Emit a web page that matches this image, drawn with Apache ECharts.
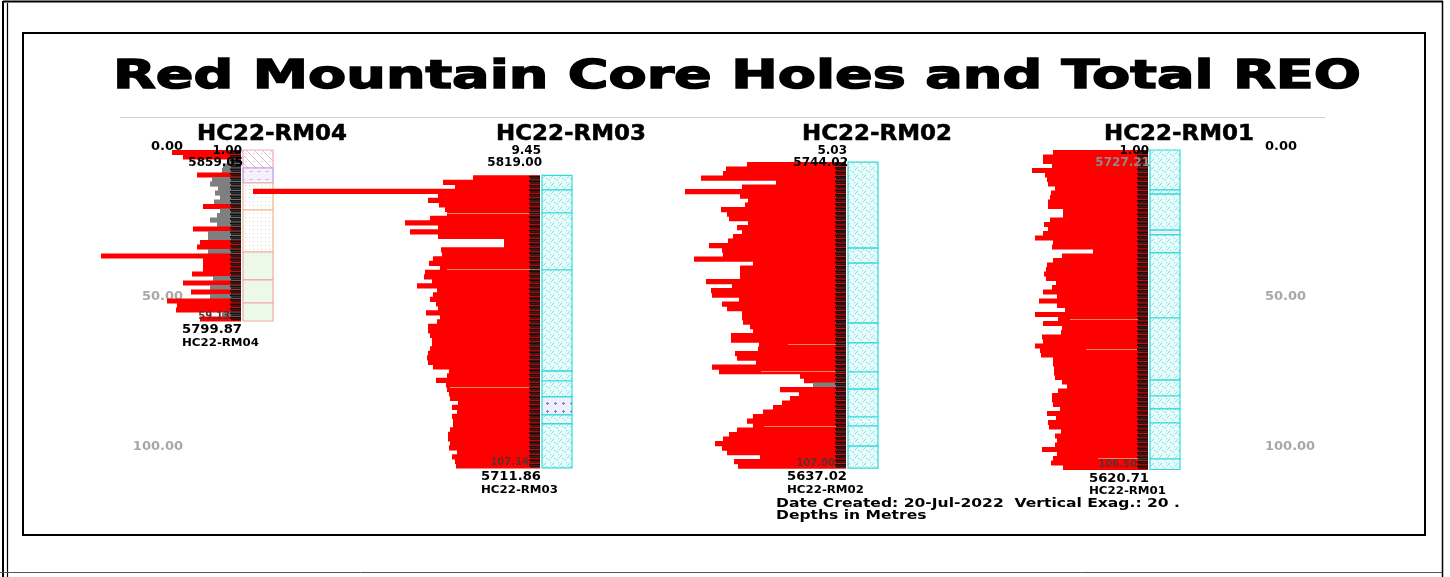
<!DOCTYPE html>
<html><head><meta charset="utf-8">
<script src="https://cdn.jsdelivr.net/npm/echarts@6/dist/echarts.min.js"></script>
<style>html,body{margin:0;padding:0;background:#fff}#c{width:1450px;height:577px}</style>
</head><body><div id="c"></div>
<script>
// ---------------- DATA ----------------
const depthTicks = [0, 50, 100];
const holeNames = ['HC22-RM04', 'HC22-RM03', 'HC22-RM02', 'HC22-RM01'];
const collarDepths = [1.00, 9.45, 5.03, 1.00];
const collarLabels = ['1.00', '9.45', '5.03', '1.00'];
const sampleInterval = 1.5;
const topElevations = ['5859.05', '5819.00', '5744.02', '5727.21'];
const bottomElevations = ['5799.87', '5711.86', '5637.02', '5620.71'];
const endDepthLabels = ['59.13', '107.14', '107.00', '106.50'];
const lowGradeCutoff = 700; // Total REO (ppm) below which the interval is grey

const rm04REO = [1380,1160,280,360,380,880,580,620,460,520,
  420,540,760,420,480,620,480,960,660,660,
  820,880,660,2800,760,760,760,980,560,1160,
  620,1000,620,1480,1280,1300,380,820];
const rm03REO = [1340,1940,1700,5740,2040,2240,2020,1900,1860,2200,
  2700,2040,2600,2040,720,720,1980,1960,2140,2220,
  2000,2300,2320,2160,2460,2060,2140,2200,2080,2040,
  2280,2000,2060,2240,2240,2200,2160,2160,2200,2240,
  2260,2240,2140,1820,1860,2080,1880,1860,1820,1800,
  1640,1760,1660,1760,1740,1740,1800,1840,1840,1800,
  1820,1660,1760,1700,1680];
const rm02REO = [1980,2400,2460,2900,1400,2080,3220,2120,1960,2020,
  2500,2380,2340,1960,2180,2080,2260,2360,2740,2480,
  2460,3040,1860,2120,2120,2120,2800,2280,2700,2680,
  2140,2480,2380,2080,2080,2060,1920,1860,2300,2300,
  1740,1760,2220,2180,1800,2680,2540,920,840,660,
  1320,940,1120,1280,1460,1660,1860,1980,1860,2180,
  2340,2460,2620,2480,2380,1720,2240,2160];
const rm01REO = [1900,2100,2100,1920,2320,2060,2020,2000,1860,1940,
  1960,2000,2000,1700,1700,1960,2080,2000,2100,2260,
  1900,1920,1100,1720,1900,2020,2040,2080,2040,1840,
  1920,2100,1820,2180,1820,1660,2260,1800,2100,1720,
  1740,2120,2100,2260,2160,2140,1900,1900,1880,1880,
  1860,1720,1620,1800,1920,1920,1900,1760,2020,1840,
  2000,1980,1740,1860,1820,1860,2120,1820,1900,1940,
  1700];

// lithology units: [from depth, to depth, unit type]
const rm04Litho = [[1,7,'pink'],[7,12,'lilac'],[12,21,'dots'],[21,35,'dots'],[35,44.3,'green'],[44.3,52,'green'],[52,58,'green']];
const rm03Litho = [[9.45,14.3,'cyan'],[14.3,22,'cyan'],[22,41,'cyan'],[41,74.7,'cyan'],[74.7,78,'cyan'],[78,83.3,'cyan'],[83.3,89.3,'purple'],[89.3,92.3,'cyan'],[92.3,106.95,'cyan']];
const rm02Litho = [[5.03,33.7,'cyan'],[33.7,38.7,'cyan'],[38.7,58.7,'cyan'],[58.7,65.3,'cyan'],[65.3,75,'cyan'],[75,80.7,'cyan'],[80.7,90,'cyan'],[90,93,'cyan'],[93,99.7,'cyan'],[99.7,107.03,'cyan']];
const rm01Litho = [[1,14.3,'cyan'],[14.3,15.7,'cyan'],[15.7,27.7,'cyan'],[27.7,29.3,'purple'],[29.3,35.3,'cyan'],[35.3,57,'cyan'],[57,77.7,'cyan'],[77.7,83,'cyan'],[83,87.3,'cyan'],[87.3,92,'cyan'],[92,104,'cyan'],[104,107.5,'cyan']];

// contact traces drawn across the REO log: [depth, REO extent (ppm)]
const rm04Contacts = [];
const rm03Contacts = [[22, 1860], [40.7, 1860], [80, 1800]];
const rm02Contacts = [[65.7, 1160], [74.7, 1700], [93, 1640]];
const rm01Contacts = [[57.3, 1560], [67.3, 1240], [103.7, 1000]];

// ---------------- LAYOUT ----------------
const holeX = [241, 540, 846, 1148];
const barSpan = [230, 300, 300, 300];
const ppmPerPx = 20;
const DEPTH_TOP = 147, DEPTH_H = 330, DEPTH_MAX = 110;
const FONT = '"DejaVu Sans", "Liberation Sans", Arial, sans-serif';

function makePattern(kind) {
  const c = document.createElement('canvas');
  c.width = 8; c.height = 8;
  const g = c.getContext('2d');
  g.fillStyle = '#ffffff'; g.fillRect(0, 0, 8, 8);
  if (kind === 'cyan') {
    g.fillStyle = '#e4fafa'; g.fillRect(0, 0, 8, 8);
    g.fillStyle = '#7fe4e4';
    for (let k = 0; k < 8; k += 2) { g.fillRect(k, k, 1, 1); g.fillRect(k + 1, 7 - k, 1, 1); }
    g.fillStyle = '#ffffff';
    g.fillRect(3, 0, 2, 1); g.fillRect(0, 4, 1, 1); g.fillRect(7, 4, 1, 1); g.fillRect(3, 5, 2, 1);
  } else if (kind === 'purple') {
    g.fillStyle = '#eef0fb'; g.fillRect(0, 0, 8, 8);
    g.fillStyle = '#7a74d8';
    g.fillRect(3, 2, 1, 3); g.fillRect(2, 3, 3, 1);
  } else if (kind === 'pink') {
    g.fillStyle = '#f6b4cf';
    for (let k = 0; k < 8; k++) g.fillRect(k, k, 1, 1);
    g.fillStyle = '#a9ecec'; g.fillRect(5, 1, 2, 1);
  } else if (kind === 'lilac') {
    g.fillStyle = '#f6f0fb'; g.fillRect(0, 0, 8, 8);
    g.fillStyle = '#d4b8f0'; g.fillRect(1, 3, 4, 1);
  } else if (kind === 'dots') {
    g.fillStyle = '#bfe9b8'; g.fillRect(1, 1, 1, 1); g.fillRect(5, 5, 1, 1);
    g.fillStyle = '#f6c4c4'; g.fillRect(5, 1, 1, 1); g.fillRect(1, 5, 1, 1);
  } else if (kind === 'green') {
    g.fillStyle = '#ecf8e8'; g.fillRect(0, 0, 8, 8);
  }
  return { image: c, repeat: 'repeat' };
}
const lithoStyle = {
  cyan:   { fill: makePattern('cyan'),   stroke: '#33d9d9' },
  purple: { fill: makePattern('purple'), stroke: '#33d9d9' },
  pink:   { fill: makePattern('pink'),   stroke: '#f3a6c8' },
  lilac:  { fill: makePattern('lilac'),  stroke: '#b898e6' },
  dots:   { fill: makePattern('dots'),   stroke: '#f2b48c' },
  green:  { fill: makePattern('green'),  stroke: '#f2a8a8' }
};

const chart = echarts.init(document.getElementById('c'), null, { renderer: 'canvas' });

function barItem(params, api) {
  const from = api.value(0), to = api.value(1), v = api.value(2);
  const p0 = api.coord([v, from]);
  const p1 = api.coord([0, to]);
  return {
    type: 'rect',
    shape: { x: p0[0], y: p0[1], width: p1[0] - p0[0], height: p1[1] - p0[1] + 0.6 },
    style: { fill: v < lowGradeCutoff ? '#7f7f7f' : '#ff0000' }
  };
}
function tickItem(params, api) {
  const p0 = api.coord([0, api.value(0)]);
  const p1 = api.coord([0, api.value(1)]);
  const h = p1[1] - p0[1];
  return {
    type: 'group',
    children: [
      { type: 'rect', shape: { x: p0[0] - 11, y: p0[1] + 0.4, width: 11, height: h * 0.4 }, style: { fill: '#111' } },
      { type: 'rect', shape: { x: p0[0] - 10, y: p0[1] + h * 0.52, width: 10, height: h * 0.36 }, style: { fill: '#1a1a1a' } }
    ]
  };
}
function contactItem(params, api) {
  const a = api.coord([api.value(1), api.value(0)]);
  const b = api.coord([0, api.value(0)]);
  return { type: 'line', shape: { x1: a[0], y1: Math.round(a[1]) + 0.5, x2: b[0], y2: Math.round(b[1]) + 0.5 },
    style: { stroke: '#f0a070', lineWidth: 1, opacity: 0.85 } };
}
function lithoRenderer(units) {
  return function (params, api) {
    const u = units[params.dataIndex];
    const p0 = api.coord([0, u[0]]);
    const p1 = api.coord([0, u[1]]);
    const st = lithoStyle[u[2]];
    return {
      type: 'rect',
      shape: { x: p0[0] + 2, y: p0[1], width: 30, height: p1[1] - p0[1] },
      style: { fill: st.fill, stroke: st.stroke, lineWidth: 1.2 }
    };
  };
}

const holes = [rm04REO, rm03REO, rm02REO, rm01REO];
const lithos = [rm04Litho, rm03Litho, rm02Litho, rm01Litho];
const contacts = [rm04Contacts, rm03Contacts, rm02Contacts, rm01Contacts];
const grids = [], xAxes = [], yAxes = [], series = [];
holes.forEach((vals, i) => {
  grids.push({ left: holeX[i] - barSpan[i], width: barSpan[i], top: DEPTH_TOP, height: DEPTH_H });
  xAxes.push({ type: 'value', gridIndex: i, inverse: true, min: 0, max: barSpan[i] * ppmPerPx, show: false });
  yAxes.push({ type: 'value', gridIndex: i, inverse: true, min: 0, max: DEPTH_MAX, show: false });
  const rows = vals.map((v, k) => [collarDepths[i] + k * sampleInterval, collarDepths[i] + (k + 1) * sampleInterval, v]);
  series.push({ type: 'custom', name: holeNames[i] + ' litho', xAxisIndex: i, yAxisIndex: i, z: 2, silent: true,
    data: lithos[i].map(u => [u[0], u[1], 0]), renderItem: lithoRenderer(lithos[i]) });
  series.push({ type: 'custom', name: holeNames[i] + ' REO', xAxisIndex: i, yAxisIndex: i, z: 3, silent: true,
    data: rows, renderItem: barItem });
  series.push({ type: 'custom', name: holeNames[i] + ' contacts', xAxisIndex: i, yAxisIndex: i, z: 3.5, silent: true,
    data: contacts[i], renderItem: contactItem });
  series.push({ type: 'custom', name: holeNames[i] + ' samples', xAxisIndex: i, yAxisIndex: i, z: 4, silent: true,
    data: rows, renderItem: tickItem });
});
// depth scale grid (left & right labels)
grids.push({ left: 190, right: 1450 - 1258, top: DEPTH_TOP, height: DEPTH_H });
xAxes.push({ type: 'value', gridIndex: 4, show: false });
const depthLabel = {
  margin: 7, fontFamily: FONT, fontWeight: 'bold', fontSize: 13,
  formatter: v => depthTicks.indexOf(+v) >= 0 ? (+v).toFixed(2) : '',
  color: (v, idx) => (+v === 0 || idx === 0 ? '#000000' : '#a8a8a8'),
  showMaxLabel: false
};
['left', 'right'].forEach(pos => {
  yAxes.push({ type: 'value', gridIndex: 4, position: pos, inverse: true, min: 0, max: DEPTH_MAX, interval: 50,
    axisLine: { show: false }, axisTick: { show: false }, splitLine: { show: false }, axisLabel: depthLabel });
});

chart.setOption({
  animation: false,
  backgroundColor: '#ffffff',
  grid: grids, xAxis: xAxes, yAxis: yAxes, series: series
});

// ---------------- TEXT & FRAME ----------------
const mctx = document.createElement('canvas').getContext('2d');
function fitScale(text, size, target) {
  mctx.font = 'bold ' + size + 'px ' + FONT;
  return target / mctx.measureText(text).width;
}
function txt(text, x, y, size, opts) {
  opts = opts || {};
  const style = { text: text, fill: opts.color || '#000', fontFamily: FONT, fontWeight: 'bold', fontSize: size,
    textAlign: opts.align || 'left', textVerticalAlign: 'middle' };
  if (opts.heavy) { style.stroke = opts.color || '#000'; style.lineWidth = opts.heavy; }
  return { type: 'text', x: x, y: y, z: 100, scaleX: opts.scaleX || 1, silent: true, style: style };
}
const gfx = [];
// frames
gfx.push({ type: 'line', z: 100, shape: { x1: 3, y1: 1.5, x2: 1443, y2: 1.5 }, style: { stroke: '#000', lineWidth: 2 } });
gfx.push({ type: 'line', z: 100, shape: { x1: 3, y1: 1, x2: 3, y2: 577 }, style: { stroke: '#000', lineWidth: 2 } });
gfx.push({ type: 'line', z: 100, shape: { x1: 7.5, y1: 3, x2: 7.5, y2: 577 }, style: { stroke: '#000', lineWidth: 1.2 } });
gfx.push({ type: 'line', z: 100, shape: { x1: 1442.5, y1: 1, x2: 1442.5, y2: 577 }, style: { stroke: '#000', lineWidth: 1.5 } });
gfx.push({ type: 'line', z: 100, shape: { x1: 0, y1: 572.5, x2: 1442, y2: 572.5 }, style: { stroke: '#555', lineWidth: 1 } });
gfx.push({ type: 'rect', z: 100, shape: { x: 23, y: 33, width: 1402, height: 502 }, style: { fill: 'none', stroke: '#000', lineWidth: 2 } });
gfx.push({ type: 'line', z: 100, shape: { x1: 120, y1: 117.5, x2: 1325, y2: 117.5 }, style: { stroke: '#d0d0d0', lineWidth: 1 } });
// title
const title = 'Red Mountain Core Holes and Total REO';
gfx.push(txt(title, 737, 78, 39, { align: 'center', scaleX: fitScale(title, 39, 1248), heavy: 1.4 }));

holes.forEach((vals, i) => {
  const hx = chart.convertToPixel({ gridIndex: i }, [0, 0])[0];
  const bottomDepth = collarDepths[i] + vals.length * sampleInterval;
  const by = chart.convertToPixel({ gridIndex: i }, [0, bottomDepth])[1];
  gfx.push(txt(holeNames[i], hx + 31, 135, 21, { align: 'center', scaleX: fitScale(holeNames[i], 21, 150), heavy: 0.5 }));
  gfx.push(txt(collarLabels[i], hx + 1, 151, 12, { align: 'right' }));
  gfx.push(txt(topElevations[i], hx + 2, 163, 12, { align: 'right', color: i === 3 ? '#8a8a8a' : '#000' }));
  gfx.push(txt(endDepthLabels[i], hx - 11, by - 5, 10, { align: 'right', color: '#5a3030' }));
  gfx.push(txt(bottomElevations[i], hx - 59, by + 9, 12, { scaleX: fitScale(bottomElevations[i], 12, 60) }));
  gfx.push(txt(holeNames[i], hx - 59, by + 22, 11, { scaleX: fitScale(holeNames[i], 11, 77) }));
});
const d1 = 'Date Created: 20-Jul-2022  Vertical Exag.: 20 .';
gfx.push(txt(d1, 776, 504, 12, { scaleX: fitScale(d1, 12, 404) }));
const d2 = 'Depths in Metres';
gfx.push(txt(d2, 776, 516, 12, { scaleX: fitScale(d1, 12, 404) }));

chart.setOption({ graphic: gfx });
</script>
</body></html>
